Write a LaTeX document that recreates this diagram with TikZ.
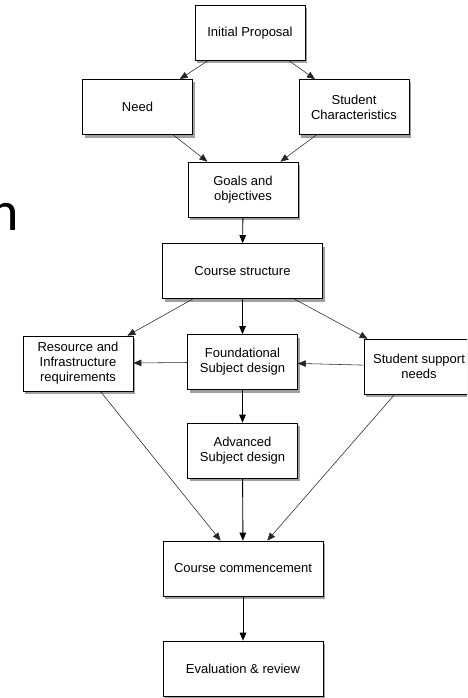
\documentclass[tikz,border=0pt]{standalone}
\usepackage{fontspec}
\setmainfont{Liberation Sans}
\newfontfamily\bigfont{Carlito}
\usepackage{tikz}
\usetikzlibrary{arrows.meta, shadows}

\begin{document}
\begin{tikzpicture}[x=1pt, y=-1pt, line width=0.6pt,
        stepbox/.style={draw, fill=white, align=center, text=black,
            minimum width=110pt, minimum height=55pt, inner sep=2pt,
            font=\fontsize{13}{15}\selectfont,
            drop shadow={shadow xshift=2pt, shadow yshift=-3pt, fill=black!50, opacity=0.75}},
        widebox/.style={stepbox, minimum width=160pt},
        flow/.style={-{Triangle[length=8pt, width=6.5pt]}, black, line width=0.9pt},
        side/.style={-{Triangle[length=8pt, width=6.5pt]}, black!85, line width=0.55pt}]
        \useasboundingbox (0,0) rectangle (467,698);
        \clip (0,0) rectangle (467,698);

        % Cut-off letter at the left edge
        \node[anchor=base east, inner sep=0pt, font=\bigfont\fontsize{56}{60}\selectfont] (cut) at (19,230) {n};

        % The Boxes
        \node[stepbox] (init) at (250,33) {Initial Proposal};
        \node[stepbox] (need) at (137.5,107) {Need};
        \node[stepbox] (stuchar) at (354,107) {Student\\Characteristics};
        \node[stepbox] (goals) at (243,189.5) {Goals and\\objectives};
        \node[widebox] (structure) at (242.5,271) {Course structure};
        \node[stepbox] (resource) at (78,363.5) {Resource and\\Infrastructure\\requirements};
        \node[stepbox] (found) at (242.5,362) {Foundational\\Subject design};
        \node[stepbox] (support) at (419,366.5) {Student support\\needs};
        \node[stepbox] (advanced) at (242.5,450.5) {Advanced\\Subject design};
        \node[widebox] (commence) at (243,568.5) {Course commencement};
        \node[widebox] (evaluate) at (243,668.5) {Evaluation \& review};

        % The Arrows
        \draw[side] (init) -- (need);
        \draw[side] (init) -- (stuchar);
        \draw[side] (need) -- (goals);
        \draw[side] (stuchar) -- (goals);
        \draw[flow] (goals) -- (structure);
        \draw[side] (structure) -- (resource);
        \draw[flow] (structure) -- (found);
        \draw[side] (structure) -- (support);
        \draw[side] (found) -- (resource);
        \draw[side] (support) -- (found);
        \draw[flow] (found) -- (advanced);
        \draw[side] (resource) -- (commence);
        \draw[flow] (advanced) -- (commence);
        \draw[side] (support) -- (commence);
        \draw[flow] (commence) -- (evaluate);
    \end{tikzpicture}
\end{document}
